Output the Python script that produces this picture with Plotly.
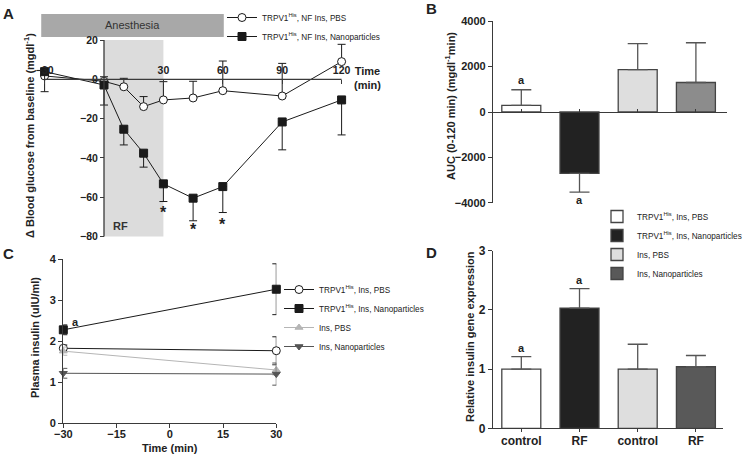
import plotly.graph_objects as go

W, H = 750, 456

# ---------------- data ----------------
# Panel A: change in blood glucose (mg/dl) over time (min)
a_time = [-30, 0, 10, 20, 30, 45, 60, 90, 120]
a_pbs = [1.7, -1.0, -3.8, -13.9, -10.5, -9.5, -5.8, -8.5, 9.0]
a_pbs_err = [0.0, 2.3, 4.3, 5.1, 9.3, 8.5, 15.1, 16.6, 8.8]
a_nano = [3.9, -2.9, -25.4, -37.6, -53.2, -60.5, -54.6, -21.7, -10.5]
a_nano_err = [10.2, 10.2, 8.0, 7.1, 9.0, 11.5, 13.2, 14.2, 17.8]
a_star_time = [30, 45, 60]
a_star_y = [-66.4, -74.9, -72.5]
a_ticks_x = [-30, 30, 60, 90, 120]
a_ticks_y = [-80, -60, -40, -20, 0, 20]
a_names = ['TRPV1<sup>His</sup>, NF Ins, PBS', 'TRPV1<sup>His</sup>, NF Ins, Nanoparticles']

# Panel B: AUC
groups = ['TRPV1<sup>His</sup>, Ins, PBS', 'TRPV1<sup>His</sup>, Ins, Nanoparticles', 'Ins, PBS', 'Ins, Nanoparticles']
b_auc = [290, -2700, 1870, 1300]
b_err = [690, 830, 1140, 1750]
b_ticks = [-4000, -2000, 0, 2000, 4000]
b_letters = [(0, 1420, 'a'), (1, -3880, 'a')]

# Panel C: plasma insulin
c_time = [-30, 30]
c_trpv_pbs = [1.83, 1.77]
c_trpv_pbs_err = [0.08, 0.34]
c_trpv_nano = [2.28, 3.27]
c_trpv_nano_err = [0.12, 0.62]
c_ins_pbs = [1.76, 1.30]
c_ins_pbs_err = [0.10, 0.12]
c_ins_nano = [1.22, 1.20]
c_ins_nano_err = [0.12, 0.27]
c_ticks_x = [-30, -15, 0, 15, 30]
c_ticks_y = [0, 1, 2, 3, 4]
c_letters = [(-28.2, 2.48, 'a'), (30, 4.07, 'a')]

# Panel D: relative insulin gene expression
d_labels = ['control', 'RF', 'control', 'RF']
d_expr = [1.0, 2.03, 1.0, 1.04]
d_err = [0.21, 0.33, 0.42, 0.19]
d_ticks = [0, 1, 2, 3]
d_letters = [(0, 1.36, 'a'), (1, 2.51, 'a')]

# ---------------- styling ----------------
AX = '#3a3a3a'
TXT = '#222222'
FONT = 'Arial'
bar_fill_b = ['#ffffff', '#222222', '#dedede', '#8c8c8c']
bar_fill_d = ['#ffffff', '#222222', '#dedede', '#595959']


def fx(px):
    return px / W


def fy(py):
    return 1 - py / H


def lin(p0, v0, p1, v1):
    s = (p1 - p0) / (v1 - v0)
    return lambda v: p0 + (v - v0) * s


def dom(r, f):
    a, b = f(r[0]), f(r[1])
    return sorted([a, b])


tickfont = dict(family=FONT, size=10.5, color=TXT, weight='bold')

fig = go.Figure()

# ---- Panel A mapping ----
A_px = lin(104, 0, 341.6, 120)
A_py = lin(79.3, 0, 40, 20)
A_xr = [-37, 125]
A_yr = [-82, 36]

# ---- Panel B mapping ----
B_px = lin(521.3, 0, 695.9, 3)
B_py = lin(112, 0, 21.2, 4000)
B_xr = [-0.486, 3.535]
B_yr = [-4000, 4000]

# ---- Panel C mapping ----
C_px = lin(63.3, -30, 276.3, 30)
C_py = lin(423.3, 0, 259.3, 4)
C_xr = [-30, 30]
C_yr = [0, 4]

# ---- Panel D mapping ----
D_px = B_px
D_py = lin(428.3, 0, 250.7, 3)
D_xr = [-0.486, 3.47]
D_yr = [0, 3]

# ---------------- traces ----------------
# A
fig.add_trace(go.Scatter(
    x=a_time, y=a_pbs, name=a_names[0], mode='lines+markers', xaxis='x', yaxis='y',
    line=dict(color='#1a1a1a', width=1),
    marker=dict(symbol='circle', size=8, color='white', line=dict(color='#1a1a1a', width=1)),
    error_y=dict(type='data', symmetric=False, array=a_pbs_err, arrayminus=[0] * len(a_pbs_err),
                 color='#1a1a1a', thickness=1, width=4),
    legend='legend', legendgroup='a1', cliponaxis=False))
fig.add_trace(go.Scatter(
    x=a_time, y=a_nano, name=a_names[1], mode='lines+markers', xaxis='x', yaxis='y',
    line=dict(color='#1a1a1a', width=1),
    marker=dict(symbol='square', size=8, color='#1a1a1a', line=dict(color='#1a1a1a', width=1)),
    error_y=dict(type='data', symmetric=False, array=[0] * len(a_nano_err), arrayminus=a_nano_err,
                 color='#1a1a1a', thickness=1, width=4),
    legend='legend', legendgroup='a2', cliponaxis=False))

# B bars
for i in range(4):
    up = b_err[i] if b_auc[i] >= 0 else 0
    dn = b_err[i] if b_auc[i] < 0 else 0
    fig.add_trace(go.Bar(
        x=[i], y=[b_auc[i]], xaxis='x2', yaxis='y2', width=0.67, showlegend=False,
        marker=dict(color=bar_fill_b[i], line=dict(color='#444444', width=1.3)),
        error_y=dict(type='data', symmetric=False, array=[up], arrayminus=[dn],
                     color='#555555', thickness=1.3, width=10)))

# C lines
c_series = [
    (c_trpv_pbs, c_trpv_pbs_err, groups[0], 'circle', 'white', '#1a1a1a', 8),
    (c_trpv_nano, c_trpv_nano_err, groups[1], 'square', '#1a1a1a', '#1a1a1a', 8),
    (c_ins_pbs, c_ins_pbs_err, groups[2], 'triangle-up', '#b5b5b5', '#b5b5b5', 7),
    (c_ins_nano, c_ins_nano_err, groups[3], 'triangle-down', '#555555', '#555555', 7),
]
for k, (ys, es, nm, sym, fillc, linec, sz) in enumerate(c_series):
    fig.add_trace(go.Scatter(
        x=c_time, y=ys, name=nm, mode='lines+markers', xaxis='x3', yaxis='y3',
        line=dict(color=linec, width=1),
        marker=dict(symbol=sym, size=sz, color=fillc, line=dict(color=linec, width=1)),
        error_y=dict(type='data', array=es, color=linec, thickness=1, width=4),
        legend='legend2', legendgroup='c%d' % k, cliponaxis=False))

# D bars
for i in range(4):
    fig.add_trace(go.Bar(
        x=[i], y=[d_expr[i]], name=groups[i], xaxis='x4', yaxis='y4', width=0.67,
        marker=dict(color=bar_fill_d[i], line=dict(color='#444444', width=1.3)),
        error_y=dict(type='data', symmetric=False, array=[d_err[i]], arrayminus=[0],
                     color='#555555', thickness=1.3, width=10),
        legend='legend3', legendgroup='d%d' % i))

# ---------------- axes ----------------
base = dict(showgrid=False, zeroline=False, fixedrange=True)
layout = dict(
    # A
    xaxis=dict(base, domain=[fx(A_px(A_xr[0])), fx(A_px(A_xr[1]))], range=A_xr,
               anchor='free', position=fy(A_py(0)), side='top', showline=False,
               tickvals=a_ticks_x, ticks='inside', ticklen=4, tickcolor=AX, tickfont=tickfont,
               ticklabelstandoff=3),
    yaxis=dict(base, domain=dom(A_yr, lambda v: fy(A_py(v))), range=A_yr,
               anchor='free', position=fx(A_px(0)), showline=False,
               tickvals=a_ticks_y, ticks='outside', ticklen=4, tickcolor=AX, tickfont=tickfont),
    # B
    xaxis2=dict(base, domain=[fx(B_px(B_xr[0])), fx(B_px(B_xr[1]))], range=B_xr,
                anchor='free', position=fy(B_py(0)), showline=True, linecolor=AX, linewidth=1.3,
                tickvals=[0, 1, 2, 3], ticks='inside', ticklen=3, tickcolor=AX, showticklabels=False),
    yaxis2=dict(base, domain=dom(B_yr, lambda v: fy(B_py(v))), range=B_yr, anchor='x2',
                showline=True, linecolor=AX, linewidth=1.3,
                tickvals=b_ticks, ticks='outside', ticklen=4, tickcolor=AX, tickfont=dict(tickfont, size=11)),
    # C
    xaxis3=dict(base, domain=[fx(C_px(C_xr[0])), fx(C_px(C_xr[1]))], range=C_xr, anchor='y3',
                showline=True, linecolor=AX, linewidth=1.3,
                tickvals=c_ticks_x, ticks='outside', ticklen=4, tickcolor=AX, tickfont=dict(tickfont, size=11),
                ticklabelstandoff=-4),
    yaxis3=dict(base, domain=dom(C_yr, lambda v: fy(C_py(v))), range=C_yr, anchor='x3',
                showline=True, linecolor=AX, linewidth=1.3,
                tickvals=c_ticks_y, ticks='outside', ticklen=4, tickcolor=AX, tickfont=dict(tickfont, size=11)),
    # D
    xaxis4=dict(base, domain=[fx(D_px(D_xr[0])), fx(D_px(D_xr[1]))], range=D_xr, anchor='y4',
                showline=True, linecolor=AX, linewidth=1.3,
                tickvals=[0, 1, 2, 3], ticktext=d_labels, ticks='outside', ticklen=3, tickcolor=AX,
                tickfont=dict(tickfont, size=12), ticklabelstandoff=-2),
    yaxis4=dict(base, domain=dom(D_yr, lambda v: fy(D_py(v))), range=D_yr, anchor='x4',
                showline=True, linecolor=AX, linewidth=1.3,
                tickvals=d_ticks, ticks='outside', ticklen=4, tickcolor=AX, tickfont=dict(tickfont, size=12)),
)
fig.update_layout(**layout)

# ---------------- shapes (panel A background + axis lines) ----------------
shapes = [
    dict(type='rect', xref='x', yref='y', x0=0, x1=30, y0=-80, y1=20,
         fillcolor='#dcdcdc', line=dict(width=0), layer='below'),
    dict(type='rect', xref='x', yref='y', x0=-31.7, x1=60.5, y0=21.5, y1=33.2,
         fillcolor='#a8a8a8', line=dict(width=0), layer='below'),
    dict(type='line', xref='x', yref='y', x0=0, x1=0, y0=-80, y1=20,
         line=dict(color=AX, width=1.3)),
    dict(type='line', xref='x', yref='y', x0=-30, x1=120, y0=0, y1=0,
         line=dict(color=AX, width=1.3)),
]

# ---------------- annotations ----------------
ann = []


def pann(text, px, py, size=11, weight='bold', angle=0, color=TXT):
    ann.append(dict(text=text, x=fx(px), y=fy(py), xref='paper', yref='paper', showarrow=False,
                    xanchor='center', yanchor='middle', textangle=angle,
                    font=dict(family=FONT, size=size, color=color, weight=weight)))


# panel letters
for lbl, px, py in [('A', 8, 13), ('B', 432, 8), ('C', 8, 254), ('D', 432, 252)]:
    pann(lbl, px, py, size=15)
# A texts
ann.append(dict(text='Anesthesia', x=14.5, y=27.4, xref='x', yref='y', showarrow=False,
                xanchor='center', yanchor='middle', font=dict(family=FONT, size=11, color='#333333')))
ann.append(dict(text='RF', x=8.2, y=-74.8, xref='x', yref='y', showarrow=False,
                xanchor='center', yanchor='middle',
                font=dict(family=FONT, size=11, color='#333333', weight='bold')))
ann.append(dict(text='Time<br>(min)', x=fx(367), y=fy(78), xref='paper', yref='paper', showarrow=False,
                xanchor='center', yanchor='middle', align='center',
                font=dict(family=FONT, size=11, color=TXT, weight='bold')))
for t, yv in zip(a_star_time, a_star_y):
    ann.append(dict(text='*', x=t, y=yv, xref='x', yref='y', showarrow=False, yshift=-3,
                    xanchor='center', yanchor='middle',
                    font=dict(family=FONT, size=16, color=TXT, weight='bold')))
# axis titles
pann('Δ Blood glucose from baseline (mgdl<sup>-1</sup>)', 29, 136, angle=-90)
pann('AUC (0-120 min) (mgdl<sup>-1</sup>min)', 450, 106, angle=-90)
pann('Plasma insulin (uIU/ml)', 35, 338, angle=-90)
pann('Relative insulin gene expression', 470, 337, angle=-90)
pann('Time (min)', 170, 448)
# significance letters
for xv, yv, t in b_letters:
    ann.append(dict(text=t, x=xv, y=yv, xref='x2', yref='y2', showarrow=False,
                    xanchor='center', yanchor='middle',
                    font=dict(family=FONT, size=11, color=TXT, weight='bold')))
for xv, yv, t in c_letters:
    ann.append(dict(text=t, x=xv, y=yv, xref='x3', yref='y3', showarrow=False,
                    xanchor='left' if xv < 0 else 'center', yanchor='middle',
                    font=dict(family=FONT, size=11, color=TXT, weight='bold')))
for xv, yv, t in d_letters:
    ann.append(dict(text=t, x=xv, y=yv, xref='x4', yref='y4', showarrow=False,
                    xanchor='center', yanchor='middle',
                    font=dict(family=FONT, size=11, color=TXT, weight='bold')))

legfont = dict(family=FONT, size=8.2, color=TXT)
fig.update_layout(
    width=W, height=H, margin=dict(l=0, r=0, t=0, b=0, autoexpand=False),
    paper_bgcolor='white', plot_bgcolor='rgba(0,0,0,0)',
    shapes=shapes, annotations=ann, barmode='overlay', showlegend=True,
    legend=dict(x=fx(222), y=fy(3), xanchor='left', yanchor='top', font=legfont,
                bgcolor='rgba(0,0,0,0)', tracegroupgap=0, itemclick=False),
    legend2=dict(x=fx(279), y=fy(275), xanchor='left', yanchor='top', font=legfont,
                 bgcolor='rgba(0,0,0,0)', tracegroupgap=0, itemclick=False),
    legend3=dict(x=fx(597), y=fy(202), xanchor='left', yanchor='top', font=legfont,
                 bgcolor='rgba(0,0,0,0)', tracegroupgap=0, itemclick=False),
)

fig.write_html('out.html', config={'displayModeBar': False},
               post_script="document.body.style.margin='0px';")
